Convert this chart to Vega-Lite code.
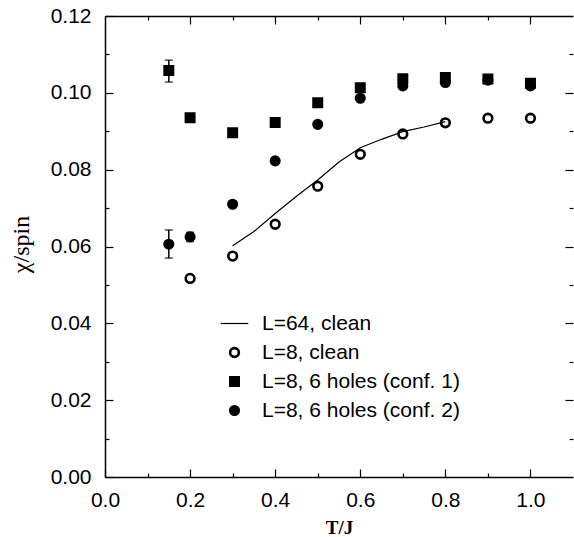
{
  "$schema": "https://vega.github.io/schema/vega-lite/v6.json",
  "autosize": "none",
  "padding": {"left": 105, "top": 16, "right": 1, "bottom": 60},
  "width": 468,
  "height": 461,
  "background": "white",
  "config": {
    "view": {"stroke": null},
    "font": "Liberation Sans",
    "legend": {
      "orient": "none", "legendX": 115, "legendY": 293,
      "title": null,
      "labelFont": "Liberation Sans", "labelFontSize": 21, "labelColor": "black",
      "labelLimit": 400, "labelOffset": 13,
      "rowPadding": 7
    }
  },
  "datasets": {
    "curve": [
      {"T": 0.30, "chi": 0.0602, "series": "L=64, clean"},
      {"T": 0.35, "chi": 0.0639, "series": "L=64, clean"},
      {"T": 0.40, "chi": 0.0686, "series": "L=64, clean"},
      {"T": 0.45, "chi": 0.0731, "series": "L=64, clean"},
      {"T": 0.50, "chi": 0.0773, "series": "L=64, clean"},
      {"T": 0.55, "chi": 0.0820, "series": "L=64, clean"},
      {"T": 0.60, "chi": 0.0857, "series": "L=64, clean"},
      {"T": 0.65, "chi": 0.0879, "series": "L=64, clean"},
      {"T": 0.70, "chi": 0.0899, "series": "L=64, clean"},
      {"T": 0.75, "chi": 0.0911, "series": "L=64, clean"},
      {"T": 0.80, "chi": 0.0925, "series": "L=64, clean"}
    ],
    "points": [
      {"T": 0.2, "chi": 0.0517, "series": "L=8, clean"},
      {"T": 0.3, "chi": 0.0575, "series": "L=8, clean"},
      {"T": 0.4, "chi": 0.0658, "series": "L=8, clean"},
      {"T": 0.5, "chi": 0.0757, "series": "L=8, clean"},
      {"T": 0.6, "chi": 0.0840, "series": "L=8, clean"},
      {"T": 0.7, "chi": 0.0893, "series": "L=8, clean"},
      {"T": 0.8, "chi": 0.0922, "series": "L=8, clean"},
      {"T": 0.9, "chi": 0.0934, "series": "L=8, clean"},
      {"T": 1.0, "chi": 0.0934, "series": "L=8, clean"},
      {"T": 0.15, "chi": 0.1058, "series": "L=8, 6 holes (conf. 1)"},
      {"T": 0.2, "chi": 0.0935, "series": "L=8, 6 holes (conf. 1)"},
      {"T": 0.3, "chi": 0.0896, "series": "L=8, 6 holes (conf. 1)"},
      {"T": 0.4, "chi": 0.0923, "series": "L=8, 6 holes (conf. 1)"},
      {"T": 0.5, "chi": 0.0974, "series": "L=8, 6 holes (conf. 1)"},
      {"T": 0.6, "chi": 0.1013, "series": "L=8, 6 holes (conf. 1)"},
      {"T": 0.7, "chi": 0.1037, "series": "L=8, 6 holes (conf. 1)"},
      {"T": 0.8, "chi": 0.1040, "series": "L=8, 6 holes (conf. 1)"},
      {"T": 0.9, "chi": 0.1036, "series": "L=8, 6 holes (conf. 1)"},
      {"T": 1.0, "chi": 0.1025, "series": "L=8, 6 holes (conf. 1)"},
      {"T": 0.15, "chi": 0.0606, "series": "L=8, 6 holes (conf. 2)"},
      {"T": 0.2, "chi": 0.0625, "series": "L=8, 6 holes (conf. 2)"},
      {"T": 0.3, "chi": 0.0710, "series": "L=8, 6 holes (conf. 2)"},
      {"T": 0.4, "chi": 0.0823, "series": "L=8, 6 holes (conf. 2)"},
      {"T": 0.5, "chi": 0.0918, "series": "L=8, 6 holes (conf. 2)"},
      {"T": 0.6, "chi": 0.0986, "series": "L=8, 6 holes (conf. 2)"},
      {"T": 0.7, "chi": 0.1018, "series": "L=8, 6 holes (conf. 2)"},
      {"T": 0.8, "chi": 0.1027, "series": "L=8, 6 holes (conf. 2)"},
      {"T": 0.9, "chi": 0.1033, "series": "L=8, 6 holes (conf. 2)"},
      {"T": 1.0, "chi": 0.1018, "series": "L=8, 6 holes (conf. 2)"}
    ],
    "errors": [
      {"T": 0.15, "lo": 0.1028, "hi": 0.1085},
      {"T": 0.15, "lo": 0.0570, "hi": 0.0643},
      {"T": 0.2, "lo": 0.0613, "hi": 0.0637}
    ]
  },
  "resolve": {
    "scale": {"x": "shared", "y": "shared"},
    "axis": {"x": "independent", "y": "independent"}
  },
  "layer": [
    {
      "data": {"name": "curve"},
      "mark": {"type": "line", "color": "black", "strokeWidth": 1.2},
      "encoding": {
        "x": {
          "field": "T", "type": "quantitative",
          "scale": {"domain": [0, 1.1], "nice": false, "zero": false},
          "axis": {
            "orient": "bottom",
            "title": "T/J",
            "titleFont": "Liberation Serif", "titleFontSize": 19, "titleFontWeight": "bold",
            "titleColor": "black",
            "titleX": 234, "titleY": 50, "titleBaseline": "middle", "titleAlign": "center",
            "values": [0, 0.1, 0.2, 0.3, 0.4, 0.5, 0.6, 0.7, 0.8, 0.9, 1.0],
            "labelExpr": "round(datum.value*10) % 2 == 0 ? format(datum.value, '.1f') : ''",
            "labelFont": "Liberation Sans", "labelFontSize": 21, "labelColor": "black",
            "labelPadding": 20,
            "labelFlush": false,
            "tickSize": {"condition": {"test": "round(datum.value*10) % 2 == 0", "value": -8}, "value": -4},
            "tickColor": "black", "tickWidth": 1.2,
            "domainColor": "black", "domainWidth": 1.5,
            "grid": false
          }
        },
        "y": {
          "field": "chi", "type": "quantitative",
          "scale": {"domain": [0, 0.12], "nice": false, "zero": false},
          "axis": {
            "orient": "left",
            "title": "χ/spin",
            "titleFont": "Liberation Serif", "titleFontSize": 24, "titleFontWeight": "normal",
            "titleColor": "black",
            "titleX": -84, "titleY": 228, "titleAngle": -90, "titleBaseline": "middle", "titleAlign": "center",
            "values": [0, 0.01, 0.02, 0.03, 0.04, 0.05, 0.06, 0.07, 0.08, 0.09, 0.1, 0.11, 0.12],
            "labelExpr": "round(datum.value*100) % 2 == 0 ? format(datum.value, '.2f') : ''",
            "labelFont": "Liberation Sans", "labelFontSize": 21, "labelColor": "black",
            "labelPadding": 22,
            "labelFlush": false,
            "tickSize": {"condition": {"test": "round(datum.value*100) % 2 == 0", "value": -8}, "value": -4},
            "tickColor": "black", "tickWidth": 1.2,
            "domainColor": "black", "domainWidth": 1.5,
            "grid": false
          }
        }
      }
    },
    {
      "data": {"name": "errors"},
      "mark": {"type": "errorbar", "color": "black", "ticks": {"size": 8, "thickness": 1.5}, "rule": {"strokeWidth": 1.5}},
      "encoding": {
        "x": {"field": "T", "type": "quantitative", "scale": {"domain": [0, 1.1], "nice": false, "zero": false}, "axis": null},
        "y": {"field": "lo", "type": "quantitative", "scale": {"domain": [0, 0.12], "nice": false, "zero": false}, "axis": null},
        "y2": {"field": "hi"}
      }
    },
    {
      "data": {"name": "points"},
      "mark": {"type": "point", "filled": false, "opacity": 1},
      "encoding": {
        "x": {
          "field": "T", "type": "quantitative",
          "scale": {"domain": [0, 1.1], "nice": false, "zero": false},
          "axis": {
            "orient": "top", "title": null, "labels": false,
            "values": [0.1, 0.2, 0.3, 0.4, 0.5, 0.6, 0.7, 0.8, 0.9, 1.0],
            "tickSize": {"condition": {"test": "round(datum.value*10) % 2 == 0", "value": -8}, "value": -4},
            "tickColor": "black", "tickWidth": 1.2,
            "domainColor": "black", "domainWidth": 1.5,
            "grid": false
          }
        },
        "y": {
          "field": "chi", "type": "quantitative",
          "scale": {"domain": [0, 0.12], "nice": false, "zero": false},
          "axis": {
            "orient": "right", "title": null, "labels": false,
            "values": [0.01, 0.02, 0.03, 0.04, 0.05, 0.06, 0.07, 0.08, 0.09, 0.1, 0.11],
            "tickSize": {"condition": {"test": "round(datum.value*100) % 2 == 0", "value": -8}, "value": -4},
            "tickColor": "black", "tickWidth": 1.2,
            "domain": false,
            "grid": false
          }
        },
        "shape": {
          "field": "series", "type": "nominal",
          "scale": {
            "domain": ["L=64, clean", "L=8, clean", "L=8, 6 holes (conf. 1)", "L=8, 6 holes (conf. 2)"],
            "range": ["stroke", "circle", "square", "circle"]
          }
        },
        "stroke": {
          "field": "series", "type": "nominal",
          "scale": {
            "domain": ["L=64, clean", "L=8, clean", "L=8, 6 holes (conf. 1)", "L=8, 6 holes (conf. 2)"],
            "range": ["black", "black", "black", "black"]
          }
        },
        "fill": {
          "field": "series", "type": "nominal",
          "scale": {
            "domain": ["L=64, clean", "L=8, clean", "L=8, 6 holes (conf. 1)", "L=8, 6 holes (conf. 2)"],
            "range": ["transparent", "transparent", "black", "black"]
          }
        },
        "size": {
          "field": "series", "type": "nominal",
          "scale": {
            "type": "ordinal",
            "domain": ["L=64, clean", "L=8, clean", "L=8, 6 holes (conf. 1)", "L=8, 6 holes (conf. 2)"],
            "range": [760, 76, 72, 74]
          }
        },
        "strokeWidth": {
          "field": "series", "type": "nominal",
          "scale": {
            "type": "ordinal",
            "domain": ["L=64, clean", "L=8, clean", "L=8, 6 holes (conf. 1)", "L=8, 6 holes (conf. 2)"],
            "range": [1.2, 2.6, 2.5, 2.5]
          }
        }
      }
    }
  ]
}
